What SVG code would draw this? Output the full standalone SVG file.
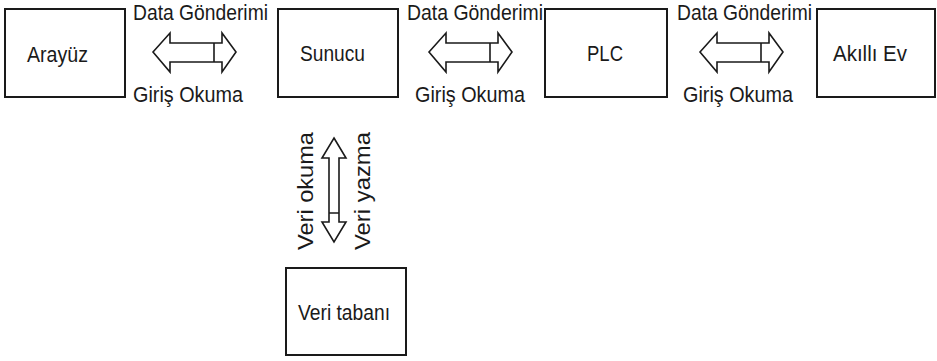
<svg xmlns="http://www.w3.org/2000/svg" width="937" height="361" viewBox="0 0 937 361">
<style>
  .box { fill: #ffffff; stroke: #1a1a1a; stroke-width: 2; }
  .lbl { font-family: "Liberation Sans", Arial, sans-serif; font-size: 22px; fill: #1a1a1a; }
  .arr { fill: #ffffff; stroke: #1a1a1a; stroke-width: 1.6; stroke-linejoin: miter; }
</style>
<defs>
  <path id="harrow" class="arr" d="M0,19 L17,0 L17,10 L69,10 L69,0 L83,19 L69,39 L69,29 L17,29 L17,39 Z M61,10 L61,29"/>
</defs>
<rect width="937" height="361" fill="#ffffff"/>

<g id="arayuz">
  <rect class="box" x="5" y="9" width="120" height="88"/>
  <text class="lbl" x="57.5" y="62" text-anchor="middle" textLength="61" lengthAdjust="spacingAndGlyphs">Arayüz</text>
</g>
<g id="sunucu">
  <rect class="box" x="278" y="9" width="120" height="88"/>
  <text class="lbl" x="332.5" y="61" text-anchor="middle" textLength="65" lengthAdjust="spacingAndGlyphs">Sunucu</text>
</g>
<g id="plc">
  <rect class="box" x="545" y="9" width="122" height="88"/>
  <text class="lbl" x="605" y="61" text-anchor="middle" textLength="36" lengthAdjust="spacingAndGlyphs">PLC</text>
</g>
<g id="akilli-ev">
  <rect class="box" x="817" y="9" width="118" height="88"/>
  <text class="lbl" x="870" y="61" text-anchor="middle" textLength="74" lengthAdjust="spacingAndGlyphs">Akıllı Ev</text>
</g>
<g id="veritabani">
  <rect class="box" x="286" y="268" width="120" height="87"/>
  <text class="lbl" x="344" y="320" text-anchor="middle" textLength="92" lengthAdjust="spacingAndGlyphs">Veri tabanı</text>
</g>

<g id="connectors">
  <use href="#harrow" x="153" y="33"/>
  <use href="#harrow" x="429" y="33"/>
  <use href="#harrow" x="700" y="33"/>
  <path class="arr" d="M334,138 L346,158 L339,158 L339,222 L346,222 L334,242 L322,222 L329,222 L329,158 L322,158 Z M329,213 L339,213"/>

  <text class="lbl" x="200.5" y="20" text-anchor="middle" textLength="135" lengthAdjust="spacingAndGlyphs">Data Gönderimi</text>
  <text class="lbl" x="188" y="102" text-anchor="middle" textLength="110" lengthAdjust="spacingAndGlyphs">Giriş Okuma</text>
  <text class="lbl" x="475" y="20" text-anchor="middle" textLength="136" lengthAdjust="spacingAndGlyphs">Data Gönderimi</text>
  <text class="lbl" x="470" y="102" text-anchor="middle" textLength="110" lengthAdjust="spacingAndGlyphs">Giriş Okuma</text>
  <text class="lbl" x="744.5" y="20" text-anchor="middle" textLength="135" lengthAdjust="spacingAndGlyphs">Data Gönderimi</text>
  <text class="lbl" x="738" y="102" text-anchor="middle" textLength="110" lengthAdjust="spacingAndGlyphs">Giriş Okuma</text>

  <text class="lbl" transform="translate(313,191) rotate(-90)" x="0" y="0" text-anchor="middle" textLength="118" lengthAdjust="spacingAndGlyphs">Veri okuma</text>
  <text class="lbl" transform="translate(370,191) rotate(-90)" x="0" y="0" text-anchor="middle" textLength="118" lengthAdjust="spacingAndGlyphs">Veri yazma</text>
</g>
</svg>
